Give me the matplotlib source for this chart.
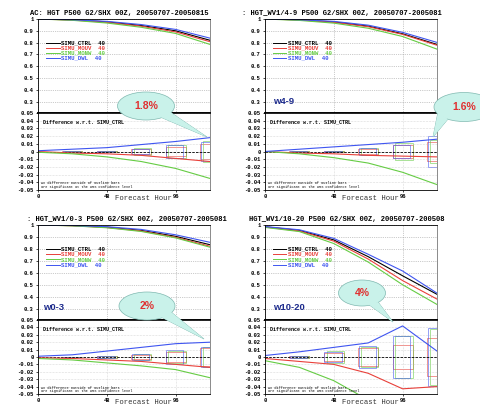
import numpy as np
import matplotlib
matplotlib.use("Agg")
import matplotlib.pyplot as plt
from matplotlib.patches import Ellipse, Polygon, Rectangle
from matplotlib.ticker import FuncFormatter

W, H = 481, 408

# Data
hours = [0, 24, 48, 72, 96, 120]
box_hours = [24, 48, 72, 96, 120]
names = ["SIMU_CTRL", "SIMU_MOUV", "SIMU_MONW", "SIMU_DWL"]

titles = ["AC: HGT P500 G2/SHX 00Z, 20050707-20050815",
          ": HGT_WV1/4-9 P500 G2/SHX 00Z, 20050707-2005081",
          ": HGT_WV1/0-3 P500 G2/SHX 00Z, 20050707-2005081",
          "HGT_WV1/10-20 P500 G2/SHX 00Z, 20050707-200508"]
tags = [None, "w4-9", "w0-3", "w10-20"]
callouts = ["1.8%", "1.6%", "2%", "4%"]

# panel 1 (all waves)
p1_ctrl = [1.0, 0.993, 0.976, 0.945, 0.900, 0.820]
p1_mouv = [1.0, 0.991, 0.972, 0.939, 0.891, 0.808]
p1_monw = [1.0, 0.989, 0.966, 0.930, 0.878, 0.785]
p1_dwl = [1.0, 0.994, 0.980, 0.953, 0.912, 0.838]
p1_d_mouv = [0.000, -0.002, -0.003, -0.005, -0.009, -0.013]
p1_d_monw = [-0.001, -0.003, -0.007, -0.013, -0.022, -0.035]
p1_d_dwl = [0.001, 0.003, 0.005, 0.009, 0.013, 0.018]
p1_b_mouv = [0.0005, 0.001, 0.003, 0.006, 0.010]
p1_b_monw = [0.0005, 0.001, 0.004, 0.008, 0.013]
p1_b_dwl = [0.0005, 0.001, 0.003, 0.008, 0.012]

# panel 2 (w4-9)
p2_ctrl = [1.0, 0.993, 0.975, 0.940, 0.875, 0.785]
p2_mouv = [1.0, 0.992, 0.972, 0.935, 0.870, 0.778]
p2_monw = [1.0, 0.988, 0.965, 0.922, 0.852, 0.745]
p2_dwl = [1.0, 0.994, 0.980, 0.948, 0.887, 0.802]
p2_d_mouv = [0.000, -0.002, -0.003, -0.005, -0.006, -0.007]
p2_d_monw = [0.000, -0.003, -0.008, -0.015, -0.027, -0.043]
p2_d_dwl = [0.000, 0.003, 0.006, 0.009, 0.012, 0.016]
p2_b_mouv = [0.0005, 0.001, 0.003, 0.008, 0.012]
p2_b_monw = [0.0005, 0.001, 0.005, 0.011, 0.015]
p2_b_dwl = [0.0005, 0.001, 0.004, 0.008, 0.020]

# panel 3 (w0-3)
p3_ctrl = [1.0, 0.995, 0.982, 0.955, 0.905, 0.835]
p3_mouv = [1.0, 0.994, 0.979, 0.950, 0.897, 0.822]
p3_monw = [1.0, 0.993, 0.977, 0.946, 0.892, 0.814]
p3_dwl = [1.0, 0.996, 0.986, 0.963, 0.918, 0.855]
p3_d_mouv = [-0.001, -0.002, -0.004, -0.006, -0.010, -0.014]
p3_d_monw = [-0.002, -0.004, -0.008, -0.012, -0.017, -0.028]
p3_d_dwl = [0.001, 0.003, 0.008, 0.013, 0.018, 0.020]
p3_b_mouv = [0.0005, 0.001, 0.003, 0.007, 0.012]
p3_b_monw = [0.0005, 0.001, 0.004, 0.008, 0.013]
p3_b_dwl = [0.0005, 0.001, 0.004, 0.009, 0.014]

# panel 4 (w10-20)
p4_ctrl = [0.985, 0.955, 0.875, 0.735, 0.575, 0.420]
p4_mouv = [0.983, 0.950, 0.865, 0.715, 0.535, 0.380]
p4_monw = [0.980, 0.945, 0.845, 0.690, 0.500, 0.335]
p4_dwl = [0.987, 0.960, 0.888, 0.755, 0.615, 0.430]
p4_d_mouv = [-0.002, -0.006, -0.010, -0.022, -0.043, -0.040]
p4_d_monw = [-0.005, -0.014, -0.032, -0.058, -0.090, -0.110]
p4_d_dwl = [0.002, 0.007, 0.013, 0.019, 0.042, 0.008]
p4_b_mouv = [0.002, 0.005, 0.012, 0.016, 0.026]
p4_b_monw = [0.002, 0.008, 0.014, 0.029, 0.038]
p4_b_dwl = [0.002, 0.007, 0.015, 0.029, 0.039]

panels = [
    (p1_ctrl, p1_mouv, p1_monw, p1_dwl, p1_d_mouv, p1_d_monw, p1_d_dwl, p1_b_mouv, p1_b_monw, p1_b_dwl),
    (p2_ctrl, p2_mouv, p2_monw, p2_dwl, p2_d_mouv, p2_d_monw, p2_d_dwl, p2_b_mouv, p2_b_monw, p2_b_dwl),
    (p3_ctrl, p3_mouv, p3_monw, p3_dwl, p3_d_mouv, p3_d_monw, p3_d_dwl, p3_b_mouv, p3_b_monw, p3_b_dwl),
    (p4_ctrl, p4_mouv, p4_monw, p4_dwl, p4_d_mouv, p4_d_monw, p4_d_dwl, p4_b_mouv, p4_b_monw, p4_b_dwl),
]

# Layout (pixels): left, right, top, middle, bottom
frames = [(38, 210, 19, 113, 190), (265, 437, 19, 113, 190),
          (38, 210, 225, 320, 394), (265, 437, 225, 320, 394)]
title_pos = [(30, 13), (242, 13), (27, 219), (249, 219)]
xlabel_pos = [(143, 199), (370, 199), (143, 403), (370, 403)]
tag_pos = [None, (273, 102), (43, 307), (273, 307)]
# ellipse centre x, y, width, height, pointer base 1, base 2, tip
bubbles = [
    (146, 106, 57, 28, (158, 116), (170, 112), (207, 137)),
    (464, 107, 60, 29, (438, 112), (448, 119), (433, 137)),
    (147, 306, 56, 28, (159, 316), (171, 312), (204, 339)),
    (362, 293, 47, 26, (368, 304), (378, 302), (393, 322)),
]

COLORS = ["black", "#e8403a", "#66cc44", "#3f55f0"]
MONO = "Liberation Mono"
BUBBLE = "#c9f2ea"


def rect(l, r, t, b):
    return [l / W, 1 - b / H, (r - l) / W, (b - t) / H]


def fmt(v, pos):
    if abs(v) < 1e-9:
        return "0"
    return "%g" % round(v, 2)


fig = plt.figure(figsize=(W / 100, H / 100), dpi=100)

for i, data in enumerate(panels):
    l, r, t, m, b = frames[i]
    ac = data[0:4]
    diffs = data[4:7]
    boxes = data[7:10]

    ax = fig.add_axes(rect(l, r, t, m))
    for k in range(4):
        ax.plot(hours, ac[k], color=COLORS[k], lw=0.8)
    ax.set_xlim(0, 120)
    ax.set_ylim(0.205, 1.0)
    ax.set_yticks([0.3, 0.4, 0.5, 0.6, 0.7, 0.8, 0.9, 1.0])
    ax.yaxis.set_major_formatter(FuncFormatter(fmt))
    ax.set_xticks([0, 48, 96])
    ax.tick_params(axis="x", labelbottom=False, length=0)
    ax.tick_params(axis="y", length=1.5, width=0.5, pad=1.5, labelsize=4)
    ax.grid(True, ls=":", lw=0.5, color="#999999")
    for s in ax.spines.values():
        s.set_linewidth(0.6)
    ax.spines["bottom"].set_linewidth(1.2)
    ax.spines["right"].set_color("#777777")
    for lab in ax.get_yticklabels():
        lab.set_fontfamily(MONO)
        lab.set_fontweight("bold")

    # legend
    for k in range(4):
        y = 0.75 - k * 0.056
        ax.plot([0.047, 0.125], [y, y], color=COLORS[k], lw=0.7, transform=ax.transAxes)
        ax.text(0.135, y, names[k] + "  40", color=COLORS[k], fontsize=4.1,
                family=MONO, fontweight="bold", va="center", transform=ax.transAxes)

    bx = fig.add_axes(rect(l, r, m, b))
    bx.axhline(0, color="black", lw=0.6, ls=(0, (3, 1.5)))
    for k in range(3):
        bx.plot(hours, diffs[k], color=COLORS[k + 1], lw=0.8)
    half_w = [7, 6, 6]
    shift = [0, 1, -0.5]
    for k in range(3):
        for h, hh in zip(box_hours, boxes[k]):
            bx.add_patch(Rectangle((h + shift[k] - half_w[k], -hh), 2 * half_w[k], 2 * hh,
                                   fill=False, ec=COLORS[k + 1], lw=0.6, alpha=0.65))
    bx.set_xlim(0, 120)
    bx.set_ylim(-0.05, 0.05)
    bx.set_yticks(np.round(np.arange(-0.05, 0.051, 0.01), 2))
    bx.yaxis.set_major_formatter(FuncFormatter(fmt))
    bx.set_xticks([0, 48, 96])
    bx.tick_params(axis="both", length=1.5, width=0.5, pad=1.5, labelsize=4)
    bx.grid(True, ls=":", lw=0.4, color="#bbbbbb")
    for s in bx.spines.values():
        s.set_linewidth(0.6)
    bx.spines["top"].set_linewidth(1.2)
    bx.spines["right"].set_color("#777777")
    for lab in bx.get_yticklabels() + bx.get_xticklabels():
        lab.set_fontfamily(MONO)
        lab.set_fontweight("bold")
    bx.text(0.03, 0.88, "Difference w.r.t. SIMU_CTRL", fontsize=3.6, family=MONO,
            fontweight="bold", va="center", transform=bx.transAxes)
    bx.text(0.02, 0.085, "AC difference outside of outline bars", fontsize=2.5,
            family=MONO, va="center", transform=bx.transAxes)
    bx.text(0.02, 0.035, "are significant at the 95% confidence level", fontsize=2.5,
            family=MONO, va="center", transform=bx.transAxes)

# overlay in pixel coordinates for titles and callouts
ov = fig.add_axes([0, 0, 1, 1], zorder=10)
ov.set_xlim(0, W)
ov.set_ylim(H, 0)
ov.axis("off")
ov.patch.set_alpha(0)

for i in range(4):
    tx, ty = title_pos[i]
    ov.text(tx, ty, titles[i], fontsize=5.1, family=MONO, fontweight="bold",
            ha="left", va="center")
    xx, xy = xlabel_pos[i]
    ov.text(xx, xy, "Forecast Hour", fontsize=5.2, family=MONO, ha="center",
            va="center", color="#333333")
    if tags[i]:
        gx, gy = tag_pos[i]
        ov.text(gx, gy, tags[i], fontsize=6.8, family="Liberation Sans",
                fontweight="bold", color="#1c2a8c", ha="left", va="center")
    cx, cy, ew, eh, b1, b2, tip = bubbles[i]
    ov.add_patch(Polygon([b1, tip, b2], closed=True, fc=BUBBLE, ec="#7fb8b0", lw=0.5))
    ov.add_patch(Ellipse((cx, cy), ew, eh, fc=BUBBLE, ec="#7fb8b0", lw=0.5))
    ov.add_patch(Polygon([b1, tip, b2], closed=True, fc=BUBBLE, ec="none"))
    ov.text(cx, cy, callouts[i], fontsize=7.5, family="Liberation Sans",
            fontweight="bold", color="#e03030", ha="center", va="center")

fig.savefig("out.png", dpi=100)
